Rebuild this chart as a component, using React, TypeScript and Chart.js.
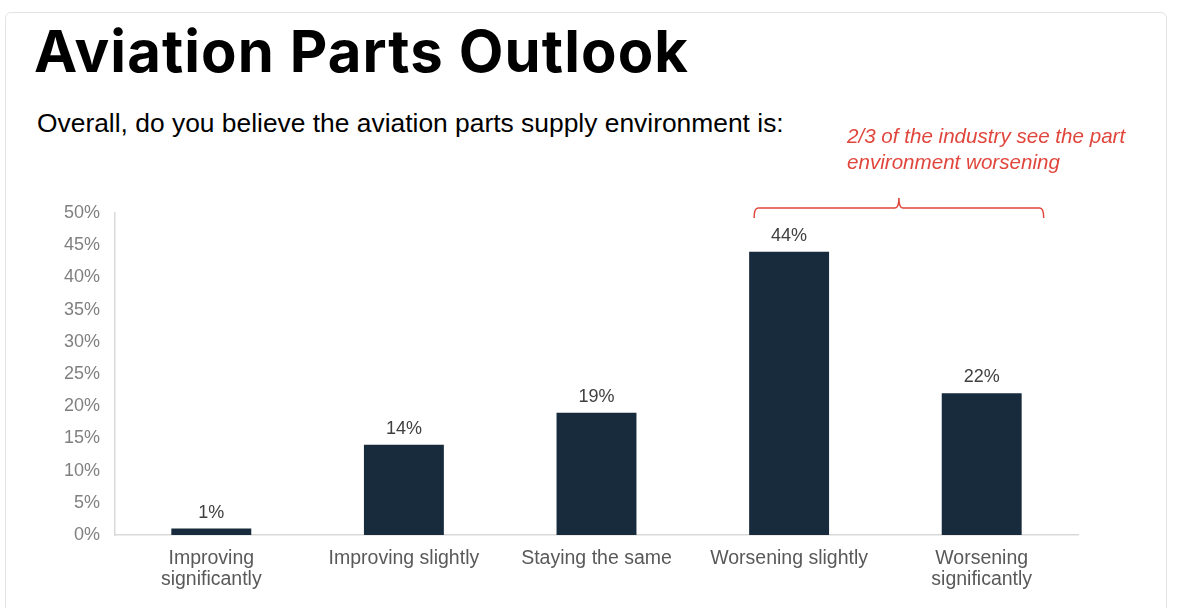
import React, { useEffect, useRef } from 'react';
import { Chart, registerables } from 'chart.js';

Chart.register(...registerables);

const categories = [
  ['Improving', 'significantly'],
  'Improving slightly',
  'Staying the same',
  'Worsening slightly',
  ['Worsening', 'significantly'],
];
const shares = [1, 14, 19, 44, 22];
const yTicks = [0, 5, 10, 15, 20, 25, 30, 35, 40, 45, 50];

const BAR = '#172b3c';
const RED = '#e0463c';

// value text above every bar
const valueLabels = {
  id: 'valueLabels',
  afterDatasetsDraw(chart: any) {
    const ctx = chart.ctx;
    const meta = chart.getDatasetMeta(0);
    ctx.save();
    ctx.font = '18px "Liberation Sans", Arial, sans-serif';
    ctx.fillStyle = '#404040';
    ctx.textAlign = 'center';
    ctx.textBaseline = 'alphabetic';
    meta.data.forEach((bar: any, i: number) => {
      ctx.fillText(shares[i] + '%', bar.x, bar.y - 11);
    });
    ctx.restore();
  },
};

// red brace over the two "worsening" bars
const bracket = {
  id: 'bracket',
  afterDraw(chart: any) {
    const x = chart.scales.x;
    const top = chart.chartArea.top;
    const left = x.getPixelForValue(3) - 35;
    const right = x.getPixelForValue(4) + 62;
    const mid = (left + right) / 2;
    const y = top - 5;
    const r = 4;
    const ctx = chart.ctx;
    ctx.save();
    ctx.strokeStyle = RED;
    ctx.lineWidth = 1.5;
    ctx.beginPath();
    ctx.moveTo(left, y + 10);
    ctx.quadraticCurveTo(left, y, left + r, y);
    ctx.lineTo(mid - r, y);
    ctx.quadraticCurveTo(mid, y, mid, y - 10);
    ctx.quadraticCurveTo(mid, y, mid + r, y);
    ctx.lineTo(right - r, y);
    ctx.quadraticCurveTo(right, y, right, y + 10);
    ctx.stroke();
    ctx.restore();
  },
};

const OutlookChart = () => {
  const canvasRef = useRef<HTMLCanvasElement>(null);

  useEffect(() => {
    const chart = new Chart(canvasRef.current as HTMLCanvasElement, {
      type: 'bar',
      data: {
        labels: categories,
        datasets: [{
          data: shares,
          backgroundColor: BAR,
          borderWidth: 0,
          barPercentage: 0.415,
          categoryPercentage: 1,
        }],
      },
      options: {
        responsive: false,
        animation: false,
        devicePixelRatio: 1,
        layout: { padding: { top: 213, right: 122, left: 0, bottom: 0 } },
        plugins: {
          legend: { display: false },
          tooltip: { enabled: false },
        },
        scales: {
          x: {
            grid: { display: false, drawTicks: false },
            border: { color: '#d9d9d9', width: 1.5 },
            ticks: {
              color: '#595959',
              padding: 14,
              maxRotation: 0,
              autoSkip: false,
              font: { family: '"Liberation Sans", Arial, sans-serif', size: 19.5, lineHeight: 1.03 },
            },
            afterFit: (s: any) => { s.height = 73; },
          },
          y: {
            min: 0,
            max: 50,
            grid: { display: false, drawTicks: false },
            border: { color: '#d9d9d9', width: 1.5 },
            afterBuildTicks: (s: any) => { s.ticks = yTicks.map(v => ({ value: v })); },
            ticks: {
              color: '#808080',
              padding: 15,
              font: { family: '"Liberation Sans", Arial, sans-serif', size: 18 },
              callback: (v: any) => v + '%',
            },
            afterFit: (s: any) => { s.width = 115; },
          },
        },
      },
      plugins: [valueLabels, bracket],
    });

    return () => chart.destroy();
  }, []);

  return <canvas ref={canvasRef} width={1200} height={608} style={{ position: 'absolute', left: 0, top: 0 }} />;
};

export default function App() {
  return (
    <div style={{ position: 'absolute', left: 0, top: 0, width: 1200, height: 608, overflow: 'hidden', background: '#fff' }}>
      <div style={{
        position: 'absolute', left: 5, top: 12, width: 1162, height: 640,
        border: '1px solid #e3e3e3', borderRadius: 6, boxSizing: 'border-box',
      }} />
      <div style={{
        position: 'absolute', left: 34, top: 22, fontFamily: 'Inter, sans-serif', fontWeight: 700,
        fontSize: 58, lineHeight: '58px', color: '#000', whiteSpace: 'nowrap', letterSpacing: 1.1,
      }}>Aviation Parts Outlook</div>
      <div style={{
        position: 'absolute', left: 37, top: 110, fontFamily: '"Liberation Sans", Arial, sans-serif',
        fontSize: 26.4, lineHeight: '26px', color: '#000', whiteSpace: 'nowrap',
      }}>Overall, do you believe the aviation parts supply environment is:</div>
      <OutlookChart />
      <div style={{
        position: 'absolute', left: 847, top: 123, fontFamily: '"Liberation Sans", Arial, sans-serif',
        fontStyle: 'italic', fontSize: 20.6, lineHeight: '26px', color: RED, whiteSpace: 'nowrap',
      }}>2/3 of the industry see the part<br />environment worsening</div>
    </div>
  );
}
